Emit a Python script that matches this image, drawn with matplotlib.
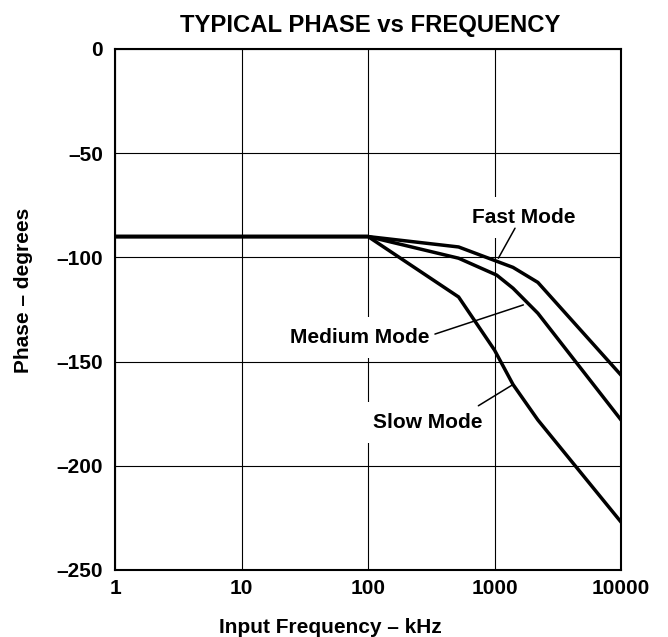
import matplotlib
matplotlib.use("Agg")
import matplotlib.pyplot as plt
from matplotlib import font_manager

plt.rcParams["font.family"] = ["Liberation Sans", "DejaVu Sans"]
plt.rcParams["font.weight"] = "bold"

# data (kHz, degrees)
fast_f = [1, 100, 520, 1400, 2200, 10000]
fast_p = [-90, -90, -95, -104.8, -112, -156.5]

medium_f = [1, 100, 520, 1040, 1400, 2200, 10000]
medium_p = [-90, -90, -100.4, -108.5, -114.8, -126.8, -178]

slow_f = [1, 100, 520, 1000, 1400, 2200, 10000]
slow_p = [-90, -90, -119, -144.5, -161, -178, -227]

x_ticks = [1, 10, 100, 1000, 10000]
x_labels = ["1", "10", "100", "1000", "10000"]
y_ticks = [0, -50, -100, -150, -200, -250]
y_labels = ["0", "\u201350", "\u2013100", "\u2013150", "\u2013200", "\u2013250"]

# curve labels: text (x, y baseline), leader start, leader end on the curve
labels = ["Fast Mode", "Medium Mode", "Slow Mode"]
label_pos = [(1693, -83.6), (86.4, -141.2), (298, -182.0)]
leader_from = [(1452, -86.0), (338, -136.8), (745, -171.2)]
leader_to = [(1072, -100.4), (1690, -122.8), (1409, -160.9)]

fig = plt.figure(figsize=(6.68, 6.37), dpi=100)
ax = fig.add_axes([0.1722, 0.1052, 0.7575, 0.8179])

for f, p in [(fast_f, fast_p), (medium_f, medium_p), (slow_f, slow_p)]:
    ax.plot(f, p, color="black", lw=2.5, solid_joinstyle="miter", zorder=3)

ax.set_xscale("log")
ax.set_xlim(1, 10000)
ax.set_ylim(-250, 0)
ax.set_xticks(x_ticks)
ax.set_xticklabels(x_labels)
ax.set_yticks(y_ticks)
ax.set_yticklabels(y_labels)
ax.minorticks_off()
ax.tick_params(length=0, labelsize=15)
ax.tick_params(axis="x", pad=6.5)
ax.tick_params(axis="y", pad=8.5)
ax.grid(True, color="black", lw=0.8)
for s in ax.spines.values():
    s.set_linewidth(1.5)
    s.set_zorder(5)

box = dict(facecolor="white", edgecolor="none", pad=8)
for txt, (tx, ty) in zip(labels, label_pos):
    ax.text(tx, ty, txt, ha="center", va="baseline", fontsize=15,
            fontweight="bold", bbox=box, zorder=4)
for a, b in zip(leader_from, leader_to):
    ax.annotate("", xy=b, xytext=a,
                arrowprops=dict(arrowstyle="-", lw=1.1, color="black",
                                shrinkA=0, shrinkB=0), zorder=4.5)

names = {f.name for f in font_manager.fontManager.ttflist}
if "Liberation Sans Narrow" in names:
    fig.text(370.5 / 668, 1 - 32 / 637, "TYPICAL PHASE vs FREQUENCY",
             family=["Liberation Sans Narrow", "Liberation Sans"],
             fontsize=21, fontweight="bold", ha="center", va="baseline")
else:
    fig.text(370.5 / 668, 1 - 32 / 637, "TYPICAL PHASE vs FREQUENCY",
             fontsize=17.2, fontweight="bold", ha="center", va="baseline")

fig.text(330.5 / 668, 1 - 633 / 637, "Input Frequency \u2013 kHz",
         fontsize=15, fontweight="bold", ha="center", va="baseline")
fig.text(24 / 668, 1 - 290 / 637, "Phase \u2013 degrees", rotation=90,
         fontsize=15, fontweight="bold", ha="center", va="center")

fig.savefig("out.png", dpi=100)
